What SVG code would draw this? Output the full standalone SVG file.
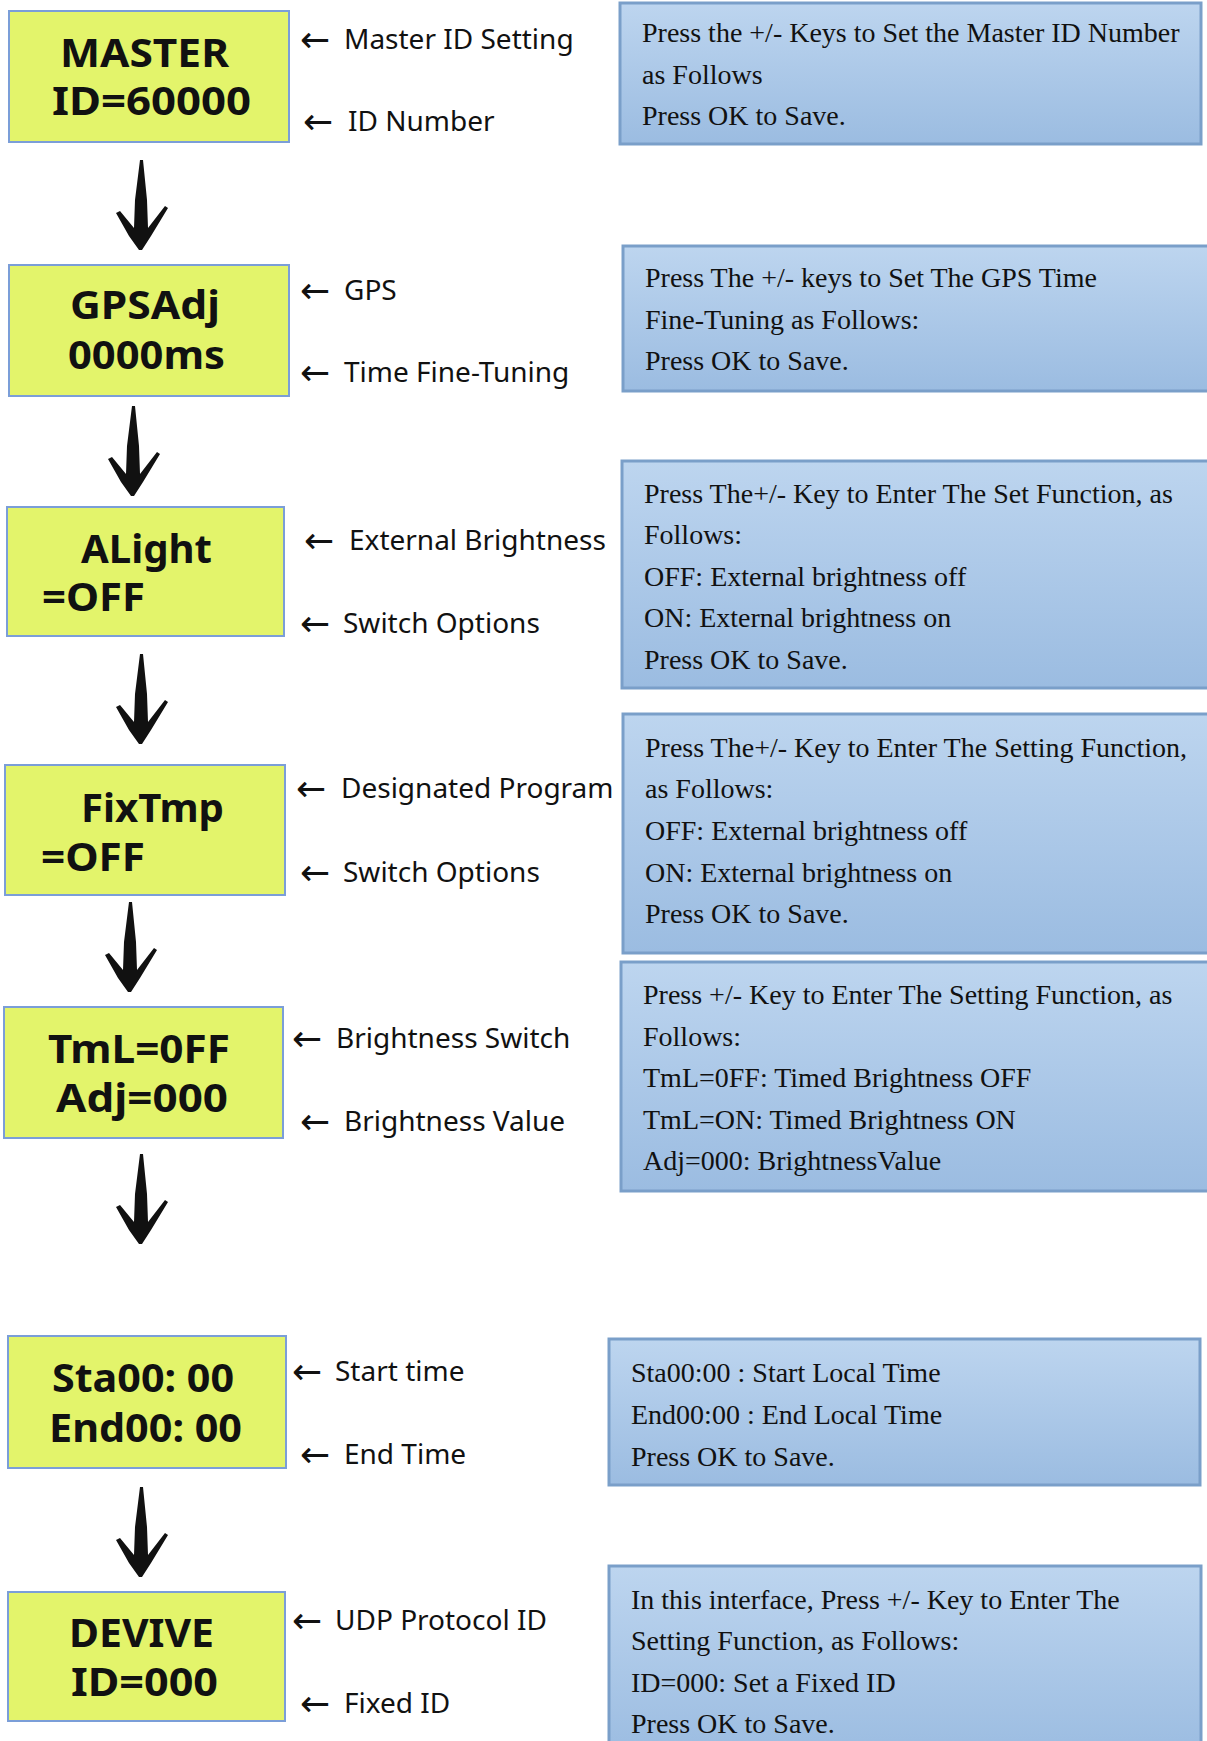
<svg xmlns="http://www.w3.org/2000/svg" width="1207" height="1741" viewBox="0 0 1207 1741">
<defs>
<linearGradient id="blueGrad" x1="0" y1="0" x2="0" y2="1">
<stop offset="0" stop-color="#BDD5EF"/>
<stop offset="1" stop-color="#9BBCE1"/>
</linearGradient>
<path id="darr" d="M -1,-90 L 2,-90 L 6,-50 L 7,-22 L 24,-44 L 27,-42 L 10,-14 L 1,0 L -2,0 L -12,-14 L -25,-37 L -21,-39 L -7,-22 L -6,-50 Z"/>
<style>
.lcd{fill:#E3F46B;stroke:#7B9ED8;stroke-width:2}
.lcdt{font-family:"Noto Sans","Open Sans",sans-serif;font-weight:bold;font-size:40px;fill:#111}
.desc{fill:url(#blueGrad);stroke:#7A9FC9;stroke-width:3}
.dt{font-family:"Liberation Serif","Times New Roman",serif;font-size:28px;fill:#111}
.lbl{font-family:"Noto Sans","Open Sans",sans-serif;font-size:28px;fill:#111}
.la{font-family:"DejaVu Sans",sans-serif;font-size:36px;fill:#111}
.arr{fill:#111}
</style>
</defs>
<rect width="1207" height="1741" fill="#fff"/>

<g id="connectors">
<use href="#darr" class="arr" transform="translate(141,250)"/>
<use href="#darr" class="arr" transform="translate(133,496)"/>
<use href="#darr" class="arr" transform="translate(141,744)"/>
<use href="#darr" class="arr" transform="translate(130,992)"/>
<use href="#darr" class="arr" transform="translate(141,1244)"/>
<use href="#darr" class="arr" transform="translate(141,1577)"/>
</g>

<g id="node-master">
<rect class="lcd" x="9" y="11" width="280" height="131"/>
<text class="lcdt" x="60" y="67" textLength="169" lengthAdjust="spacingAndGlyphs">MASTER</text>
<text class="lcdt" x="52" y="115" textLength="199" lengthAdjust="spacingAndGlyphs">ID=60000</text>
</g>
<g id="label-master">
<text y="49"><tspan class="la" x="300" dy="3">←</tspan><tspan class="lbl" x="344" dy="-3">Master ID Setting</tspan></text>
<text y="131"><tspan class="la" x="303" dy="3">←</tspan><tspan class="lbl" x="348" dy="-3">ID Number</tspan></text>
</g>
<g id="desc-master">
<rect class="desc" x="620" y="3" width="581" height="141"/>
<text class="dt" x="642" y="42">Press the +/- Keys to Set the Master ID Number</text>
<text class="dt" x="642" y="84">as Follows</text>
<text class="dt" x="642" y="125">Press OK to Save.</text>
</g>

<g id="node-gpsadj">
<rect class="lcd" x="9" y="265" width="280" height="131"/>
<text class="lcdt" x="70" y="319" textLength="150" lengthAdjust="spacingAndGlyphs">GPSAdj</text>
<text class="lcdt" x="68" y="369" textLength="157" lengthAdjust="spacingAndGlyphs">0000ms</text>
</g>
<g id="label-gpsadj">
<text y="300"><tspan class="la" x="300" dy="3">←</tspan><tspan class="lbl" x="344" dy="-3">GPS</tspan></text>
<text y="382"><tspan class="la" x="300" dy="3">←</tspan><tspan class="lbl" x="344" dy="-3">Time Fine-Tuning</tspan></text>
</g>
<g id="desc-gpsadj">
<rect class="desc" x="623" y="246" width="590" height="145"/>
<text class="dt" x="645" y="287">Press The +/- keys to Set The GPS Time</text>
<text class="dt" x="645" y="329">Fine-Tuning as Follows:</text>
<text class="dt" x="645" y="370">Press OK to Save.</text>
</g>

<g id="node-alight">
<rect class="lcd" x="7" y="507" width="277" height="129"/>
<text class="lcdt" x="81" y="563" textLength="131" lengthAdjust="spacingAndGlyphs">ALight</text>
<text class="lcdt" x="42" y="611" textLength="103" lengthAdjust="spacingAndGlyphs">=OFF</text>
</g>
<g id="label-alight">
<text y="550"><tspan class="la" x="304" dy="3">←</tspan><tspan class="lbl" x="349" dy="-3">External Brightness</tspan></text>
<text y="633"><tspan class="la" x="300" dy="3">←</tspan><tspan class="lbl" x="343" dy="-3">Switch Options</tspan></text>
</g>
<g id="desc-alight">
<rect class="desc" x="622" y="461" width="590" height="227"/>
<text class="dt" x="644" y="503">Press The+/- Key to Enter The Set Function, as</text>
<text class="dt" x="644" y="544">Follows:</text>
<text class="dt" x="644" y="586">OFF: External brightness off</text>
<text class="dt" x="644" y="627">ON: External brightness on</text>
<text class="dt" x="644" y="669">Press OK to Save.</text>
</g>

<g id="node-fixtmp">
<rect class="lcd" x="5" y="765" width="280" height="130"/>
<text class="lcdt" x="81" y="822" textLength="143" lengthAdjust="spacingAndGlyphs">FixTmp</text>
<text class="lcdt" x="41" y="871" textLength="104" lengthAdjust="spacingAndGlyphs">=OFF</text>
</g>
<g id="label-fixtmp">
<text y="798"><tspan class="la" x="296" dy="3">←</tspan><tspan class="lbl" x="341" dy="-3">Designated Program</tspan></text>
<text y="882"><tspan class="la" x="300" dy="3">←</tspan><tspan class="lbl" x="343" dy="-3">Switch Options</tspan></text>
</g>
<g id="desc-fixtmp">
<rect class="desc" x="623" y="714" width="590" height="239"/>
<text class="dt" x="645" y="757">Press The+/- Key to Enter The Setting Function,</text>
<text class="dt" x="645" y="798">as Follows:</text>
<text class="dt" x="645" y="840">OFF: External brightness off</text>
<text class="dt" x="645" y="882">ON: External brightness on</text>
<text class="dt" x="645" y="923">Press OK to Save.</text>
</g>

<g id="node-tml">
<rect class="lcd" x="4" y="1007" width="279" height="131"/>
<text class="lcdt" x="48" y="1063" textLength="182" lengthAdjust="spacingAndGlyphs">TmL=0FF</text>
<text class="lcdt" x="56" y="1112" textLength="172" lengthAdjust="spacingAndGlyphs">Adj=000</text>
</g>
<g id="label-tml">
<text y="1048"><tspan class="la" x="292" dy="3">←</tspan><tspan class="lbl" x="336" dy="-3">Brightness Switch</tspan></text>
<text y="1131"><tspan class="la" x="300" dy="3">←</tspan><tspan class="lbl" x="344" dy="-3">Brightness Value</tspan></text>
</g>
<g id="desc-tml">
<rect class="desc" x="621" y="962" width="592" height="229"/>
<text class="dt" x="643" y="1004">Press +/- Key to Enter The Setting Function, as</text>
<text class="dt" x="643" y="1046">Follows:</text>
<text class="dt" x="643" y="1087">TmL=0FF: Timed Brightness OFF</text>
<text class="dt" x="643" y="1129">TmL=ON: Timed Brightness ON</text>
<text class="dt" x="643" y="1170">Adj=000: BrightnessValue</text>
</g>

<g id="node-sta">
<rect class="lcd" x="8" y="1336" width="278" height="132"/>
<text class="lcdt" x="52" y="1392" textLength="182" lengthAdjust="spacingAndGlyphs">Sta00: 00</text>
<text class="lcdt" x="49" y="1442" textLength="193" lengthAdjust="spacingAndGlyphs">End00: 00</text>
</g>
<g id="label-sta">
<text y="1381"><tspan class="la" x="292" dy="3">←</tspan><tspan class="lbl" x="335" dy="-3">Start time</tspan></text>
<text y="1464"><tspan class="la" x="300" dy="3">←</tspan><tspan class="lbl" x="344" dy="-3">End Time</tspan></text>
</g>
<g id="desc-sta">
<rect class="desc" x="609" y="1339" width="591" height="146"/>
<text class="dt" x="631" y="1382">Sta00:00 : Start Local Time</text>
<text class="dt" x="631" y="1424">End00:00 : End Local Time</text>
<text class="dt" x="631" y="1466">Press OK to Save.</text>
</g>

<g id="node-devive">
<rect class="lcd" x="8" y="1592" width="277" height="129"/>
<text class="lcdt" x="69" y="1647" textLength="145" lengthAdjust="spacingAndGlyphs">DEVIVE</text>
<text class="lcdt" x="71" y="1696" textLength="147" lengthAdjust="spacingAndGlyphs">ID=000</text>
</g>
<g id="label-devive">
<text y="1630"><tspan class="la" x="292" dy="3">←</tspan><tspan class="lbl" x="335" dy="-3">UDP Protocol ID</tspan></text>
<text y="1713"><tspan class="la" x="300" dy="3">←</tspan><tspan class="lbl" x="344" dy="-3">Fixed ID</tspan></text>
</g>
<g id="desc-devive">
<rect class="desc" x="609" y="1566" width="592" height="190"/>
<text class="dt" x="631" y="1609">In this interface, Press +/- Key to Enter The</text>
<text class="dt" x="631" y="1650">Setting Function, as Follows:</text>
<text class="dt" x="631" y="1692">ID=000: Set a Fixed ID</text>
<text class="dt" x="631" y="1733">Press OK to Save.</text>
</g>
</svg>
